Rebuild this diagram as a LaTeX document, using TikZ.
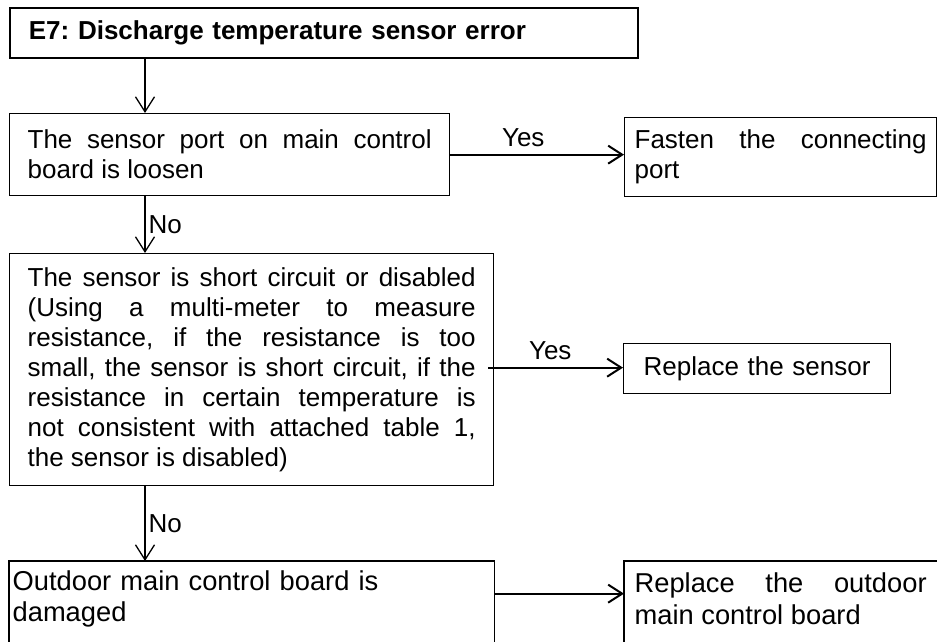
\documentclass[tikz,border=0pt]{standalone}
\usepackage{fontspec}
\setmainfont{Liberation Sans}
\usetikzlibrary{arrows.meta}
\frenchspacing
\begin{document}
\begin{tikzpicture}[x=1pt,y=-1pt,
  every node/.style={font=\fontsize{26}{29.9}\selectfont},
  box/.style={draw,line width=1.3pt,anchor=north west,inner ysep=0pt,inner xsep=9pt,align=justify},
  bigtext/.style={font=\fontsize{27.3}{31.4}\selectfont},
  varrow/.style={line width=1.3pt,-{Straight Barb[length=15pt,width=19pt]}},
  harrow/.style={line width=2pt,-{Straight Barb[length=14pt,width=18pt]}},
  lbl/.style={inner sep=3pt,text depth=0pt}]
\useasboundingbox (0,0) rectangle (937,641);
\coordinate (vx) at (145,0);
\node[box,line width=1.8pt,inner xsep=19pt,text width=590pt,minimum width=628pt,minimum height=50pt,align=left,font=\fontsize{26}{29.9}\selectfont\bfseries] (b1) at (9,7) {E7: Discharge temperature sensor error};
\node[box,inner xsep=18pt,text width=404pt,minimum width=440pt,minimum height=82pt] (b2) at (9,113) {The sensor port on main control\linebreak board is loosen};
\node[box,inner xsep=10pt,text width=292pt,minimum width=312pt,minimum height=79pt] (b3) at (624,117) {Fasten the connecting\linebreak port};
\node[box,inner xsep=18pt,text width=448pt,minimum width=484pt,minimum height=232pt] (b4) at (9,253) {The sensor is short circuit or disabled\linebreak (Using a multi-meter to measure\linebreak resistance, if the resistance is too\linebreak small, the sensor is short circuit, if the\linebreak resistance in certain temperature is\linebreak not consistent with attached table 1,\linebreak the sensor is disabled)};
\node[box,inner xsep=20pt,text width=227pt,minimum width=267pt,minimum height=50pt,align=left] (b5) at (623,343) {Replace the sensor};
\node[box,draw=none,bigtext,inner xsep=3pt,text width=478pt,minimum width=484pt,minimum height=74pt,align=left] (b6) at (9,561) {Outdoor main control board is\\damaged};
\node[box,draw=none,bigtext,inner xsep=10pt,text width=292pt,minimum width=312pt,minimum height=74pt] (b7) at (624,561) {Replace the outdoor\linebreak main control board};
\draw[line width=1.3pt] (b6.north west) rectangle ([yshift=-20pt]b6.south east);
\draw[line width=1.3pt] (b7.north west) rectangle ([yshift=-20pt]b7.south east);
\draw[varrow] (b1.south -| vx) -- (b2.north -| vx);
\draw[harrow] (b2.east) -- node[lbl,pos=0.42,above=4pt] {Yes} (b2.east -| b3.west);
\draw[varrow] (b2.south -| vx) -- node[lbl,right] {No} (b4.north -| vx);
\draw[harrow] ([xshift=-6pt,yshift=2pt]b4.east) -- node[lbl,pos=0.46,above=4pt] {Yes} ([yshift=2pt]b4.east -| b5.west);
\draw[varrow] (b4.south -| vx) -- node[lbl,right] {No} (b6.north -| vx);
\draw[harrow] ([yshift=5pt]b6.east) -- ([yshift=5pt]b6.east -| b7.west);
\end{tikzpicture}
\end{document}
